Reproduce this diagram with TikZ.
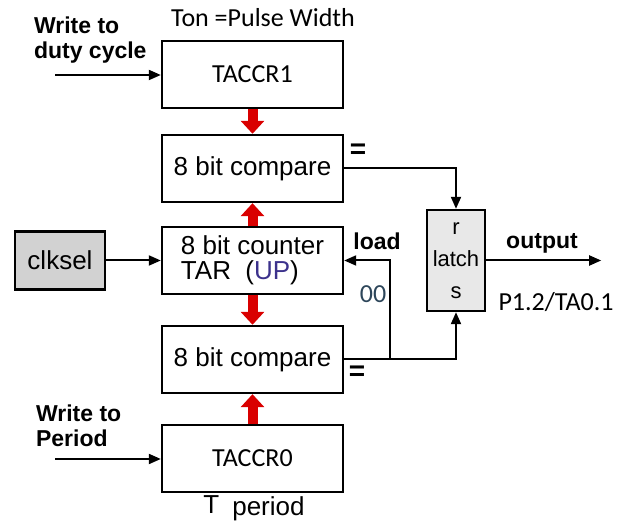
\documentclass[tikz,border=0pt]{standalone}
\usepackage{fontspec}
\setmainfont{Liberation Sans}
\newfontfamily\calfont{Carlito}
\usetikzlibrary{arrows.meta,positioning}
\definecolor{slate}{RGB}{45,70,90}
\definecolor{upblue}{RGB}{60,50,140}

\begin{document}
\begin{tikzpicture}[
x=0.5pt, y=-0.5pt,
node distance=14pt and 28pt,
box/.style={draw, line width=1.2pt, minimum width=90.5pt, minimum height=33.5pt, inner sep=2pt, font=\fontsize{13}{12.5}\selectfont},
cal/.style={font=\fontsize{13}{15}\selectfont\calfont},
lbl/.style={font=\fontsize{11.5}{12.5}\selectfont\bfseries, align=left},
arrow/.style={-{Triangle[length=6pt,width=5pt]}, line width=1pt},
bigarrow/.style={-{Triangle[length=6.5pt,width=11.5pt]}, line width=5pt, draw=red!85!black}
]
\useasboundingbox (0,0) rectangle (617,522);
\node[box, cal] (acr1) at (252.5,74.5) {TACCR1};
\node[box, below=12.3pt of acr1] (cmp1) {8 bit compare};
\node[box, below=11.3pt of cmp1, align=left] (cnt) {8 bit counter\\TAR\ \ (\textcolor{upblue}{UP})};
\node[box, below=14.8pt of cnt] (cmp2) {8 bit compare};
\node[box, cal, below=14.8pt of cmp2] (acr0) {TACCR0};

\node[box, fill=gray!35, minimum width=45pt, minimum height=29pt, left=27.3pt of cnt] (clk) {clksel};
\node[box, fill=gray!18, minimum width=29pt, minimum height=50.5pt, right=40.8pt of cnt, align=center, font=\fontsize{11}{16}\selectfont] (latch) {r\\latch\\s};

\node[cal] (ton) at (263,18) {Ton =Pulse Width};
\node[lbl, anchor=west] (wdc) at (27,40) {Write to\\duty cycle};
\coordinate (wdcin) at (55,75);
\node[lbl, anchor=west] (wp) at (29,426) {Write to\\Period};
\coordinate (wpin) at (55,459);
\node[font=\fontsize{13}{15}\selectfont] (tp) at (254,508) {\raisebox{1.2pt}{T}\enspace period};

\node[font=\fontsize{14}{14}\selectfont\bfseries] (eq1) at (358,151) {=};
\node[font=\fontsize{14}{14}\selectfont\bfseries] (eq2) at (357,373) {=};
\coordinate (ld) at ([xshift=23pt]cmp2.east);
\node[lbl] (load) at (377,241) {load};
\node[cal, text=slate] (oo) at (373,294) {00};
\coordinate (out) at ([xshift=57.5pt]latch.east);
\node[lbl] (outl) at (542,243) {output};
\node[cal] (pin) at (556,302) {P1.2/TA0.1};

\draw[arrow] (wdcin) -- (wdcin -| acr1.west);
\draw[arrow] (wpin) -- (wpin -| acr0.west);
\draw[arrow] (clk) -- (cnt);
\draw[bigarrow] (acr1) -- (cmp1);
\draw[bigarrow] (cnt) -- (cmp1);
\draw[bigarrow] (cnt) -- (cmp2);
\draw[bigarrow] (acr0) -- (cmp2);
\draw[arrow] (cmp1.east) -| (latch.north);
\draw[arrow] (cmp2.east) -| (latch.south);
\draw[arrow] (ld) |- (cnt.east);
\draw[arrow] (latch) -- (out);
\end{tikzpicture}
\end{document}
